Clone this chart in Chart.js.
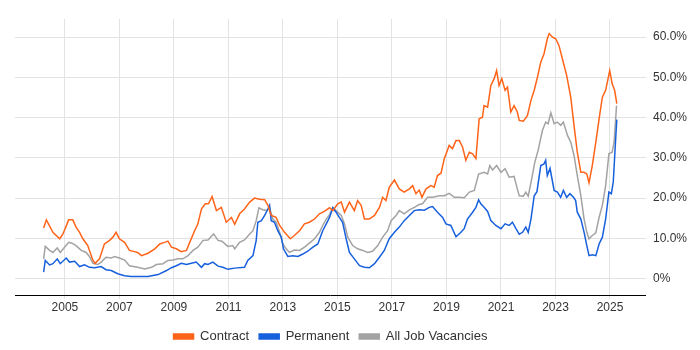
<!DOCTYPE html>
<html>
<head>
<meta charset="utf-8">
<script src="https://cdn.jsdelivr.net/npm/chart.js@4"></script>
<style>
  body { margin: 0; background: #fff; }
  #wrap { width: 700px; height: 350px; position: relative; }
</style>
</head>
<body>
<div id="wrap"><canvas id="trendChart"></canvas></div>
<script>
// Decimal years and percentage share
const contractYears = [2004.22, 2004.32, 2004.56, 2004.81, 2004.93, 2005.14, 2005.29, 2005.41, 2005.54, 2005.66, 2005.84, 2006.03, 2006.11, 2006.27, 2006.45, 2006.64, 2006.76, 2006.88, 2007.00, 2007.19, 2007.37, 2007.55, 2007.67, 2007.81, 2008.05, 2008.30, 2008.48, 2008.66, 2008.78, 2008.91, 2009.09, 2009.27, 2009.46, 2009.58, 2009.76, 2009.88, 2010.01, 2010.15, 2010.27, 2010.40, 2010.56, 2010.74, 2010.92, 2011.11, 2011.23, 2011.41, 2011.59, 2011.78, 2011.96, 2012.14, 2012.33, 2012.45, 2012.57, 2012.75, 2012.88, 2013.06, 2013.27, 2013.42, 2013.61, 2013.79, 2013.97, 2014.16, 2014.34, 2014.52, 2014.71, 2014.83, 2015.01, 2015.14, 2015.26, 2015.44, 2015.62, 2015.74, 2015.87, 2015.99, 2016.17, 2016.36, 2016.54, 2016.66, 2016.78, 2016.90, 2017.09, 2017.27, 2017.45, 2017.64, 2017.76, 2017.88, 2018.00, 2018.10, 2018.25, 2018.43, 2018.55, 2018.67, 2018.80, 2018.92, 2019.10, 2019.22, 2019.35, 2019.47, 2019.59, 2019.71, 2019.84, 2019.96, 2020.08, 2020.20, 2020.32, 2020.38, 2020.51, 2020.63, 2020.75, 2020.84, 2020.93, 2021.03, 2021.15, 2021.24, 2021.36, 2021.48, 2021.60, 2021.67, 2021.82, 2021.97, 2022.10, 2022.22, 2022.34, 2022.46, 2022.58, 2022.70, 2022.77, 2022.89, 2023.01, 2023.13, 2023.25, 2023.41, 2023.56, 2023.68, 2023.80, 2023.93, 2024.05, 2024.15, 2024.23, 2024.35, 2024.48, 2024.60, 2024.72, 2024.84, 2024.99, 2025.08, 2025.17, 2025.25];
const contractShare = [12.6, 14.6, 11.5, 9.9, 11.1, 14.6, 14.6, 12.8, 11.5, 9.9, 8.2, 4.5, 3.8, 4.9, 8.6, 9.5, 10.3, 11.5, 9.9, 9.0, 7.0, 6.7, 6.5, 5.7, 6.3, 7.4, 8.6, 9.0, 9.3, 7.8, 7.4, 6.7, 7.0, 9.0, 11.9, 13.6, 17.3, 18.6, 18.6, 20.4, 16.9, 17.7, 14.0, 15.2, 13.5, 16.1, 17.3, 19.0, 20.0, 19.7, 19.6, 18.2, 15.7, 15.2, 13.2, 11.5, 9.9, 10.7, 11.9, 13.6, 14.0, 14.8, 16.1, 16.7, 17.6, 16.9, 18.6, 19.0, 16.5, 19.0, 16.9, 19.4, 18.2, 14.8, 14.8, 15.7, 17.7, 20.2, 19.4, 22.7, 24.5, 22.3, 21.5, 22.3, 23.1, 21.1, 22.0, 20.2, 22.3, 23.1, 22.7, 25.6, 26.2, 29.8, 33.1, 32.3, 34.3, 34.3, 32.7, 29.4, 31.4, 31.0, 29.8, 39.7, 40.1, 43.0, 42.6, 48.0, 49.7, 51.7, 48.0, 49.7, 46.8, 47.6, 41.4, 43.0, 41.4, 39.3, 39.1, 40.5, 44.3, 46.8, 50.1, 53.8, 55.9, 59.6, 60.9, 60.0, 59.6, 57.9, 54.7, 50.5, 45.1, 38.1, 31.4, 26.4, 26.4, 26.0, 23.8, 28.1, 33.9, 39.7, 45.1, 46.8, 51.7, 48.4, 46.8, 43.5];

const permanentYears = [2004.22, 2004.28, 2004.44, 2004.56, 2004.72, 2004.83, 2005.05, 2005.17, 2005.36, 2005.54, 2005.72, 2005.90, 2006.09, 2006.33, 2006.51, 2006.70, 2006.94, 2007.19, 2007.43, 2007.67, 2008.05, 2008.42, 2008.73, 2008.91, 2009.09, 2009.27, 2009.46, 2009.64, 2009.82, 2010.01, 2010.13, 2010.25, 2010.43, 2010.62, 2010.80, 2010.98, 2011.23, 2011.59, 2011.71, 2011.90, 2012.02, 2012.08, 2012.21, 2012.33, 2012.45, 2012.51, 2012.57, 2012.69, 2012.81, 2012.94, 2013.02, 2013.18, 2013.36, 2013.55, 2013.73, 2013.91, 2014.10, 2014.28, 2014.46, 2014.59, 2014.71, 2014.83, 2014.95, 2015.07, 2015.19, 2015.32, 2015.44, 2015.62, 2015.81, 2015.99, 2016.17, 2016.36, 2016.54, 2016.72, 2016.90, 2017.09, 2017.27, 2017.45, 2017.64, 2017.82, 2018.00, 2018.19, 2018.37, 2018.49, 2018.67, 2018.86, 2018.98, 2019.16, 2019.35, 2019.53, 2019.65, 2019.77, 2019.96, 2020.08, 2020.18, 2020.26, 2020.38, 2020.51, 2020.63, 2020.81, 2021.00, 2021.15, 2021.30, 2021.42, 2021.55, 2021.67, 2021.79, 2021.91, 2022.00, 2022.10, 2022.22, 2022.32, 2022.46, 2022.58, 2022.64, 2022.70, 2022.80, 2022.95, 2023.07, 2023.19, 2023.29, 2023.41, 2023.53, 2023.66, 2023.74, 2023.80, 2023.93, 2024.05, 2024.15, 2024.23, 2024.35, 2024.48, 2024.60, 2024.72, 2024.84, 2024.96, 2025.05, 2025.12, 2025.21, 2025.25];
const permanentShare = [1.6, 4.5, 3.4, 3.7, 4.9, 3.7, 5.1, 4.1, 4.3, 3.0, 3.4, 2.8, 2.7, 3.0, 2.2, 2.0, 1.2, 0.7, 0.5, 0.5, 0.5, 1.0, 2.0, 2.7, 3.2, 3.8, 3.5, 3.8, 4.1, 2.8, 3.7, 3.5, 4.1, 3.1, 2.8, 2.3, 2.6, 2.8, 4.5, 5.7, 9.5, 14.0, 14.4, 15.7, 17.3, 18.2, 14.4, 14.0, 11.9, 10.3, 7.4, 5.5, 5.7, 5.5, 6.1, 6.8, 7.8, 8.6, 11.9, 13.6, 15.2, 17.6, 16.5, 15.2, 14.0, 9.9, 6.5, 4.9, 3.2, 2.8, 2.7, 3.7, 5.3, 7.0, 9.9, 11.5, 12.8, 14.4, 15.7, 16.9, 17.1, 17.0, 17.7, 17.9, 16.5, 15.2, 13.6, 13.2, 10.4, 11.5, 12.4, 14.8, 16.5, 17.7, 19.6, 18.6, 17.7, 16.7, 14.4, 13.2, 12.4, 13.6, 13.2, 14.0, 12.4, 11.0, 11.5, 12.8, 11.5, 14.8, 20.6, 21.6, 28.1, 28.5, 29.4, 25.6, 27.4, 21.9, 21.5, 20.2, 21.9, 20.2, 21.1, 20.2, 19.4, 16.5, 14.8, 11.5, 8.2, 5.7, 5.9, 5.7, 8.6, 10.3, 14.8, 21.5, 21.1, 24.0, 35.0, 39.5];

const allYears = [2004.22, 2004.28, 2004.44, 2004.56, 2004.72, 2004.83, 2004.99, 2005.14, 2005.26, 2005.41, 2005.60, 2005.78, 2005.90, 2006.03, 2006.21, 2006.33, 2006.51, 2006.70, 2006.82, 2007.00, 2007.19, 2007.37, 2007.67, 2007.93, 2008.18, 2008.36, 2008.60, 2008.78, 2008.97, 2009.15, 2009.33, 2009.52, 2009.70, 2009.88, 2010.07, 2010.25, 2010.46, 2010.62, 2010.76, 2010.98, 2011.16, 2011.23, 2011.41, 2011.59, 2011.78, 2011.90, 2012.02, 2012.12, 2012.26, 2012.41, 2012.51, 2012.63, 2012.75, 2012.88, 2013.00, 2013.12, 2013.24, 2013.42, 2013.61, 2013.79, 2013.97, 2014.16, 2014.34, 2014.46, 2014.59, 2014.71, 2014.83, 2014.95, 2015.14, 2015.26, 2015.38, 2015.56, 2015.74, 2015.93, 2016.11, 2016.29, 2016.48, 2016.66, 2016.84, 2016.97, 2017.15, 2017.27, 2017.45, 2017.64, 2017.82, 2018.00, 2018.12, 2018.31, 2018.49, 2018.74, 2018.92, 2019.10, 2019.29, 2019.47, 2019.65, 2019.84, 2020.02, 2020.18, 2020.38, 2020.51, 2020.59, 2020.69, 2020.84, 2021.00, 2021.15, 2021.30, 2021.48, 2021.60, 2021.67, 2021.82, 2021.91, 2022.00, 2022.15, 2022.24, 2022.36, 2022.52, 2022.64, 2022.73, 2022.83, 2022.95, 2023.07, 2023.19, 2023.29, 2023.44, 2023.56, 2023.68, 2023.80, 2023.93, 2024.05, 2024.15, 2024.23, 2024.35, 2024.48, 2024.60, 2024.72, 2024.84, 2024.96, 2025.08, 2025.15, 2025.24];
const allShare = [4.9, 8.0, 7.0, 6.5, 7.6, 6.5, 7.8, 9.0, 8.8, 8.2, 7.0, 6.5, 5.5, 3.8, 3.5, 4.1, 5.3, 5.1, 5.5, 5.1, 4.6, 3.2, 2.8, 2.4, 2.8, 3.5, 3.7, 4.5, 4.6, 4.9, 4.9, 5.7, 7.0, 7.8, 9.5, 9.6, 11.1, 9.5, 9.3, 8.0, 8.2, 7.4, 9.0, 9.6, 11.1, 11.9, 14.4, 17.6, 17.1, 16.9, 17.6, 14.8, 14.0, 11.5, 8.6, 7.4, 6.5, 7.1, 7.0, 7.8, 8.8, 9.9, 11.5, 13.2, 14.8, 15.9, 17.7, 16.9, 15.7, 13.6, 10.3, 8.2, 7.4, 7.0, 6.5, 6.8, 8.2, 10.3, 11.9, 14.4, 15.7, 16.9, 16.1, 17.1, 17.7, 18.4, 18.6, 20.2, 20.2, 20.6, 20.6, 21.2, 20.2, 20.2, 20.1, 21.5, 21.9, 26.0, 26.4, 26.0, 28.1, 27.0, 28.1, 26.4, 27.3, 25.2, 25.4, 22.3, 20.6, 20.5, 21.5, 20.5, 25.6, 28.9, 31.8, 36.8, 38.9, 38.5, 41.2, 38.5, 38.9, 38.1, 38.9, 35.6, 33.9, 30.6, 25.6, 20.6, 14.8, 11.5, 9.9, 10.7, 11.4, 15.2, 18.2, 23.1, 31.0, 31.4, 33.9, 43.0];

const yearTicks = [2005, 2007, 2009, 2011, 2013, 2015, 2017, 2019, 2021, 2023, 2025];
const pctTicks = [0, 10, 20, 30, 40, 50, 60];

function toPoints(xs, ys) {
  return xs.map((x, i) => ({ x: x, y: ys[i] }));
}

const tickFont = { family: "'Liberation Sans', Arial, sans-serif", size: 12 };
const legendFont = { family: "'Liberation Sans', Arial, sans-serif", size: 13 };

new Chart(document.getElementById("trendChart"), {
  type: "line",
  data: {
    datasets: [
      {
        label: "Contract",
        data: toPoints(contractYears, contractShare),
        borderColor: "#ff6419",
        backgroundColor: "#ff6419",
        borderWidth: 1.5,
        pointRadius: 0,
        fill: false,
      },
      {
        label: "Permanent",
        data: toPoints(permanentYears, permanentShare),
        borderColor: "#1760dd",
        backgroundColor: "#1760dd",
        borderWidth: 1.5,
        pointRadius: 0,
        fill: false,
      },
      {
        label: "All Job Vacancies",
        data: toPoints(allYears, allShare),
        borderColor: "#a3a3a3",
        backgroundColor: "#a3a3a3",
        borderWidth: 1.5,
        pointRadius: 0,
        fill: false,
      },
    ],
  },
  options: {
    responsive: true,
    maintainAspectRatio: false,
    animation: false,
    layout: { padding: { left: 15, right: 6, top: 19, bottom: -3 } },
    plugins: {
      tooltip: { enabled: false },
      legend: {
        position: "bottom",
        fullSize: false,
        labels: {
          boxWidth: 20,
          boxHeight: 5,
          padding: 10,
          color: "#333",
          font: legendFont,
        },
      },
    },
    scales: {
      x: {
        type: "linear",
        min: 2003.17,
        max: 2026.32,
        afterBuildTicks: axis => {
          axis.ticks = yearTicks.map(v => ({ value: v }));
        },
        afterFit: axis => {
          axis.height = 25;
        },
        ticks: {
          color: "#333",
          font: tickFont,
          padding: 1,
          maxRotation: 0,
          callback: v => String(v),
        },
        grid: { color: "#e3e3e3", tickLength: 4 },
        border: { color: "#000", width: 1 },
      },
      y: {
        position: "right",
        min: -4.08,
        max: 64.52,
        afterBuildTicks: axis => {
          axis.ticks = pctTicks.map(v => ({ value: v }));
        },
        ticks: {
          color: "#333",
          font: tickFont,
          padding: 7,
          callback: v => (v === 0 ? "0%" : v.toFixed(1) + "%"),
        },
        grid: { color: "#e3e3e3", drawTicks: false },
        border: { display: false },
      },
    },
  },
});
</script>
</body>
</html>
